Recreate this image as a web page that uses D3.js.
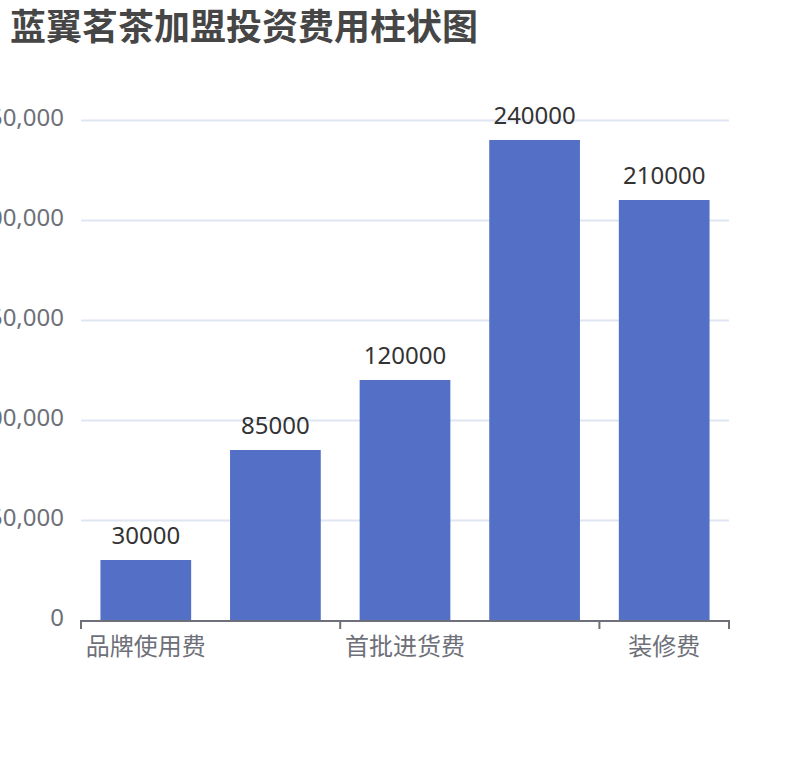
<!DOCTYPE html>
<html><head><meta charset="utf-8">
<script src="https://cdn.jsdelivr.net/npm/d3@7/dist/d3.min.js"></script>
<style>body{margin:0;background:#fff;} svg{display:block;font-family:"Noto Sans","Noto Sans CJK SC",sans-serif;}</style>
</head><body><svg id="c" width="810" height="760"></svg>
<script>
const title = "蓝翼茗茶加盟投资费用柱状图";
const categories = ["品牌使用费", "加盟费", "首批进货费", "设备费", "装修费"];
const values = [30000, 85000, 120000, 240000, 210000];
const yTicks = [0, 50000, 100000, 150000, 200000, 250000];
const shownLabelIdx = [0, 2, 4];

const svg = d3.select("#c");
const L = 81, R = 729, T = 120, B = 620;
const x = d3.scaleBand().domain(categories).range([L, R]).paddingInner(0.3).paddingOuter(0.15);
const xb = d3.scaleBand().domain(categories).range([L, R]).padding(0);
const y = d3.scaleLinear().domain([0, 250000]).range([B, T]);

svg.append("text").attr("x", 10).attr("y", 40).text(title)
  .attr("font-size", 36).attr("font-weight", "bold").attr("fill", "#464646")
  .attr("font-family", '"Noto Sans CJK SC",sans-serif');

// grid
svg.append("g").selectAll("line").data(yTicks.filter(d => d > 0)).join("line")
  .attr("x1", L).attr("x2", R).attr("y1", d => y(d) + 0.5).attr("y2", d => y(d) + 0.5)
  .attr("stroke", "#E0E6F1").attr("stroke-width", 2);

// y labels
const fmt = d3.format(",");
svg.append("g").selectAll("text").data(yTicks).join("text")
  .attr("x", 64).attr("y", d => y(d) - 2).attr("dy", "0.35em").attr("text-anchor", "end")
  .attr("font-size", 24).attr("fill", "#6E7079").text(d => fmt(d));

// bars
svg.append("g").selectAll("rect").data(values).join("rect")
  .attr("x", (d, i) => x(categories[i])).attr("width", x.bandwidth())
  .attr("y", d => y(d)).attr("height", d => B - y(d)).attr("fill", "#5470C6");

// value labels
svg.append("g").selectAll("text").data(values).join("text")
  .attr("x", (d, i) => x(categories[i]) + x.bandwidth() / 2).attr("y", d => y(d) - 16)
  .attr("text-anchor", "middle").attr("font-size", 24).attr("fill", "#333").text(d => d);

// x axis
svg.append("line").attr("x1", L).attr("x2", R).attr("y1", B + 1).attr("y2", B + 1)
  .attr("stroke", "#6E7079").attr("stroke-width", 2);
const tickXs = shownLabelIdx.map(i => xb(categories[i])).concat([R]);
svg.append("g").selectAll("line").data(tickXs).join("line")
  .attr("x1", d => d).attr("x2", d => d).attr("y1", B).attr("y2", B + 9)
  .attr("stroke", "#6E7079").attr("stroke-width", 2);
svg.append("g").selectAll("text").data(shownLabelIdx).join("text")
  .attr("x", i => xb(categories[i]) + xb.bandwidth() / 2).attr("y", B + 35)
  .attr("text-anchor", "middle").attr("font-size", 24).attr("fill", "#6E7079")
  .text(i => categories[i]);
</script></body></html>
